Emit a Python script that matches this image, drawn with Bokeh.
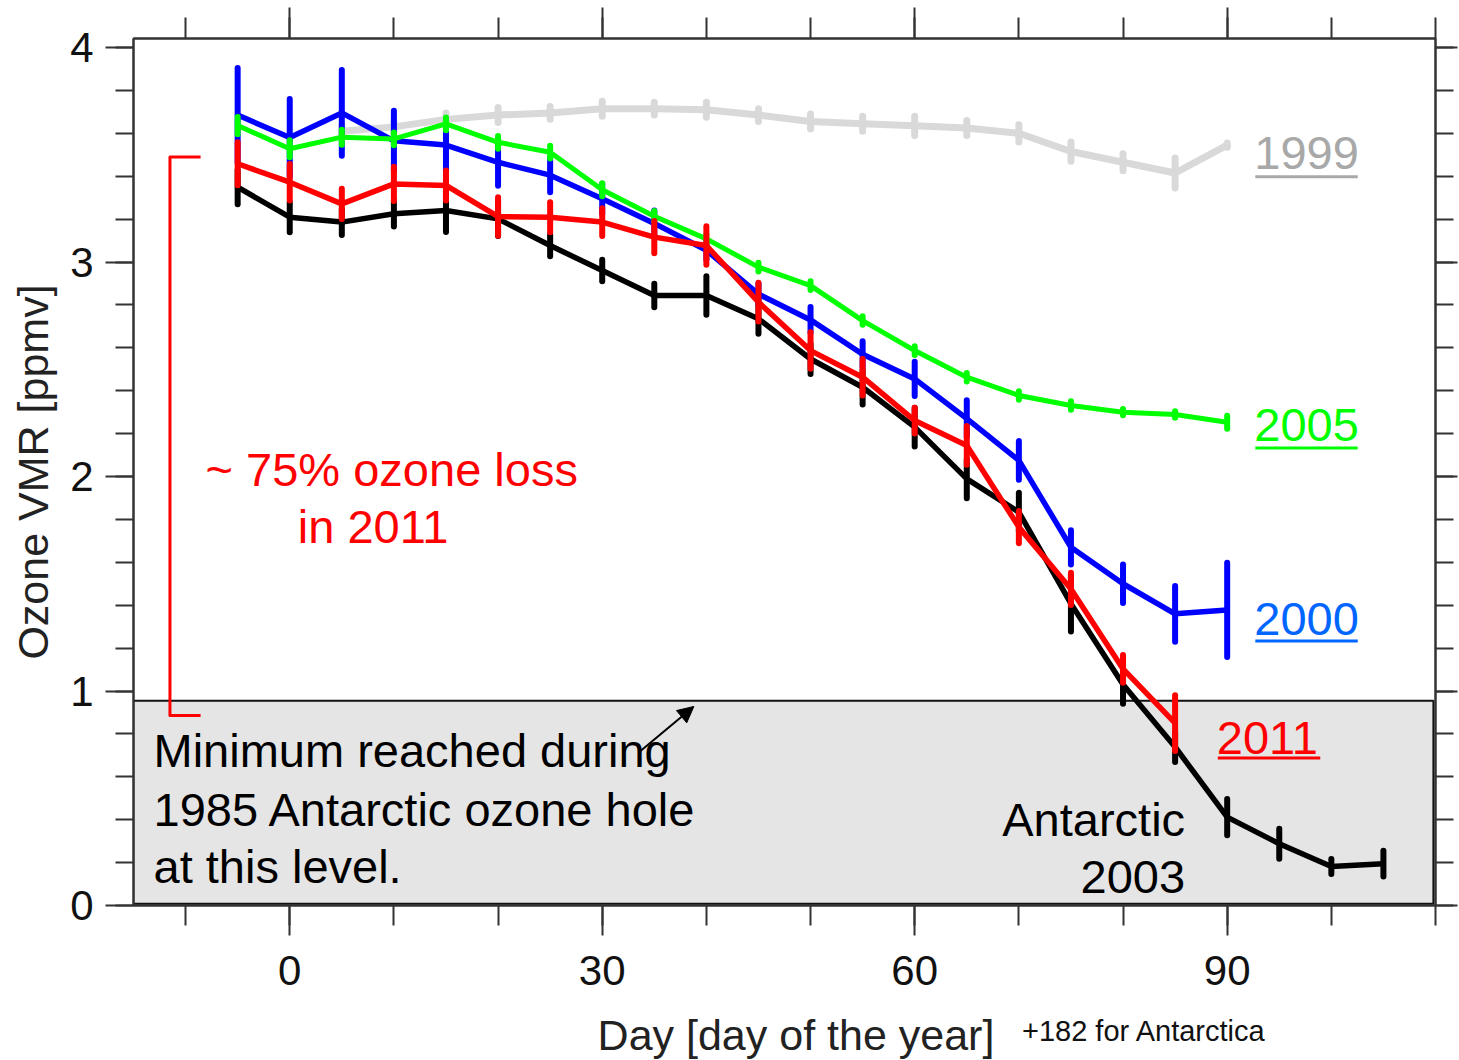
from bokeh.plotting import figure
from bokeh.layouts import column
from bokeh.models import Range1d, LinearAxis, FixedTicker, Label, Arrow, NormalHead, ColumnDataSource
from bokeh.embed import file_html
from bokeh.resources import INLINE

# ---------------- data ----------------
days = [-5, 0, 5, 10, 15, 20, 25, 30, 35, 40, 45, 50, 55, 60, 65, 70, 75, 80, 85, 90]
days_2011 = days[:19]
days_1999 = days[2:]
days_antarctic = days + [95, 100, 105]

o3_1999 = [3.61, 3.63, 3.665, 3.685, 3.695, 3.715, 3.715, 3.71, 3.685, 3.655,
           3.645, 3.635, 3.625, 3.60, 3.515, 3.465, 3.415, 3.545]
err_1999 = [0.03, 0.03, 0.03, 0.035, 0.03, 0.035, 0.03, 0.035, 0.03, 0.035,
            0.035, 0.045, 0.035, 0.04, 0.045, 0.04, 0.07, 0.01]

o3_2000 = [3.685, 3.58, 3.695, 3.565, 3.545, 3.465, 3.405, 3.295, 3.18, 3.055,
           2.85, 2.73, 2.57, 2.455, 2.27, 2.075, 1.67, 1.50, 1.36, 1.378]
err_2000 = [0.22, 0.18, 0.20, 0.14, 0.12, 0.11, 0.08, 0.07, 0.06, 0.045,
            0.05, 0.06, 0.06, 0.08, 0.085, 0.09, 0.08, 0.09, 0.13, 0.22]

o3_2005 = [3.636, 3.528, 3.582, 3.574, 3.644, 3.558, 3.512, 3.337, 3.213, 3.108,
           2.976, 2.89, 2.727, 2.587, 2.463, 2.378, 2.331, 2.30, 2.289, 2.253]
err_2005 = [0.04, 0.04, 0.035, 0.03, 0.03, 0.03, 0.03, 0.03, 0.025, 0.02,
            0.02, 0.02, 0.02, 0.02, 0.02, 0.02, 0.02, 0.015, 0.015, 0.03]

o3_2011 = [3.458, 3.372, 3.271, 3.364, 3.357, 3.212, 3.209, 3.186, 3.116, 3.077,
           2.813, 2.587, 2.463, 2.261, 2.145, 1.764, 1.476, 1.103, 0.85]
err_2011 = [0.10, 0.085, 0.07, 0.08, 0.07, 0.09, 0.07, 0.065, 0.075, 0.09,
            0.09, 0.085, 0.085, 0.06, 0.09, 0.075, 0.075, 0.065, 0.13]

o3_antarctic = [3.349, 3.209, 3.186, 3.225, 3.240, 3.201, 3.077, 2.960, 2.844, 2.844,
                2.735, 2.548, 2.416, 2.230, 1.989, 1.834, 1.407, 1.03, 0.739, 0.412,
                0.288, 0.182, 0.195]
err_antarctic = [0.08, 0.07, 0.06, 0.06, 0.10, 0.08, 0.05, 0.05, 0.055, 0.09,
                 0.07, 0.07, 0.08, 0.09, 0.09, 0.09, 0.13, 0.09, 0.07, 0.085,
                 0.07, 0.035, 0.06]

x_major_ticks = [0, 30, 60, 90]
x_minor_ticks = list(range(-10, 111, 10))
y_major_ticks = [0, 1, 2, 3, 4]
y_minor_ticks = [round(0.2 * i, 1) for i in range(0, 21)]

# ---------------- figure ----------------
FONT = "Liberation Sans"
AX = "#333333"
W = 1459
H_MAIN = 1000
H_TITLE = 60

x_range = Range1d(-15, 110)

p = figure(width=W, height=H_MAIN, x_range=x_range, y_range=Range1d(0, 4.042),
           output_backend="svg", toolbar_location=None,
           min_border_left=133, min_border_right=24, min_border_top=38, min_border_bottom=95)
p.xgrid.visible = False
p.ygrid.visible = False
p.outline_line_color = AX
p.outline_line_width = 2
p.background_fill_color = "white"
p.border_fill_color = "white"

p.add_layout(LinearAxis(), "above")
p.add_layout(LinearAxis(), "right")


def style_axis(ax, ticker, major_out, minor_out, labels):
    ax.ticker = ticker
    ax.major_tick_in = 0
    ax.minor_tick_in = 0
    ax.major_tick_out = major_out
    ax.minor_tick_out = minor_out
    ax.major_tick_line_color = AX
    ax.minor_tick_line_color = AX
    ax.major_tick_line_width = 2
    ax.minor_tick_line_width = 2
    ax.axis_line_color = AX
    ax.axis_line_width = 2
    if labels:
        ax.major_label_text_font = FONT
        ax.major_label_text_font_size = "42px"
        ax.major_label_text_color = "#111111"
    else:
        ax.major_label_overrides = {t: "" for t in ticker.ticks}
        ax.major_label_text_font_size = "1px"
        ax.major_label_standoff = 0


xt = FixedTicker(ticks=x_major_ticks, minor_ticks=x_minor_ticks)
yt = FixedTicker(ticks=y_major_ticks, minor_ticks=y_minor_ticks)

style_axis(p.below[0], xt, 30, 20, True)
p.below[0].major_label_standoff = 20
style_axis(p.above[0], xt, 31, 21, False)
style_axis(p.left[0], yt, 28, 18, True)
p.left[0].major_label_standoff = 12
style_axis(p.right[0], yt, 22, 18, False)

p.left[0].axis_label = "Ozone VMR [ppmv]"
p.left[0].axis_label_text_font = FONT
p.left[0].axis_label_text_font_size = "43px"
p.left[0].axis_label_text_font_style = "normal"
p.left[0].axis_label_text_color = "#222222"
p.left[0].axis_label_standoff = 10

# ---------------- grey box ----------------
p.quad(left=-15, right=109.8, bottom=0.008, top=0.955,
       fill_color="#e5e5e5", line_color="#111111", line_width=2)


def draw(xs, ys, es, color, lw, bw):
    src = ColumnDataSource(dict(x=xs, y=ys,
                                lo=[a - b for a, b in zip(ys, es)],
                                hi=[a + b for a, b in zip(ys, es)]))
    p.line("x", "y", source=src, line_color=color, line_width=lw,
           line_join="round", line_cap="round")
    p.segment(x0="x", y0="lo", x1="x", y1="hi", source=src, line_color=color,
              line_width=bw, line_cap="round")


draw(days_1999, o3_1999, err_1999, "#d9d9d9", 7, 7)
draw(days_antarctic, o3_antarctic, err_antarctic, "#000000", 5.5, 6)
draw(days, o3_2000, err_2000, "#0000ff", 5.5, 6)
draw(days, o3_2005, err_2005, "#00ff00", 5, 6)
draw(days_2011, o3_2011, err_2011, "#ff0000", 5.5, 6)

# ---------------- annotations ----------------
PX_PER_DAY = 1302 / 125.0


def year_label(x, y, text, color, uy):
    p.add_layout(Label(x=x, y=y, text=text, text_font=FONT, text_font_size="47px",
                       text_color=color, text_align="left", text_baseline="middle"))
    w = len(text) * 0.556 * 47 / PX_PER_DAY
    p.segment(x0=[x + 0.1], y0=[uy], x1=[x + w - 0.1], y1=[uy], line_color=color, line_width=3)


year_label(92.6, 3.506, "1999", "#a8a8a8", 3.397)
year_label(92.6, 2.238, "2005", "#00ff00", 2.133)
year_label(92.6, 1.338, "2000", "#0066ff", 1.233)
year_label(89.0, 0.783, "2011", "#ff0000", 0.688)


def txt(fig, x, y, text, color, size, align="left", baseline="middle"):
    fig.add_layout(Label(x=x, y=y, text=text, text_font=FONT, text_font_size=size,
                         text_color=color, text_align=align, text_baseline=baseline))


txt(p, 85.96, 0.401, "Antarctic", "#000000", "47px", "right")
txt(p, 85.96, 0.131, "2003", "#000000", "47px", "right")

txt(p, -13.08, 0.723, "Minimum reached during", "#000000", "47px")
txt(p, -13.08, 0.448, "1985 Antarctic ozone hole", "#000000", "47px")
txt(p, -13.08, 0.182, "at this level.", "#000000", "47px")

txt(p, -8.08, 2.033, "~ 75% ozone loss", "#ff0000", "47px")
txt(p, 0.77, 1.767, "in 2011", "#ff0000", "47px")

# red bracket
p.line(x=[-8.56, -11.5, -11.5, -8.56], y=[3.49, 3.49, 0.886, 0.886],
       line_color="#ff0000", line_width=3, line_join="round")

# arrow
p.add_layout(Arrow(end=NormalHead(size=16, fill_color="black", line_color="black"),
                   x_start=33.5, y_start=0.713, x_end=38.8, y_end=0.928,
                   line_color="black", line_width=2))

# ---------------- x-axis title strip (shares the x scale) ----------------
t = figure(width=W, height=H_TITLE, x_range=x_range, y_range=Range1d(0, H_TITLE),
           output_backend="svg", toolbar_location=None,
           x_axis_location=None, y_axis_location=None,
           min_border_left=133, min_border_right=24, min_border_top=0, min_border_bottom=0)
t.xgrid.visible = False
t.ygrid.visible = False
t.outline_line_color = None
t.background_fill_color = "white"
t.border_fill_color = "white"

txt(t, 48.6, 26, "Day [day of the year]", "#222222", "43px", "center", "middle")
txt(t, 70.3, 30, "+182 for Antarctica", "#111111", "29px", "left", "middle")

layout = column(p, t, spacing=0)
open("out.html", "w").write(file_html(layout, INLINE))
